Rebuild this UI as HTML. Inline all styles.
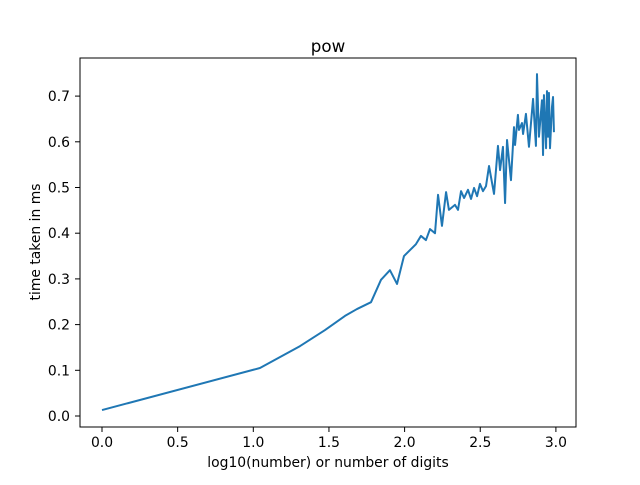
<!DOCTYPE html>
<html><head><meta charset="utf-8"><style>
body{margin:0;background:#fff;}
svg text{font-family:"DejaVu Sans","Liberation Sans",sans-serif;fill:#000;}
</style></head><body>
<svg id="chart" width="640" height="480" xmlns="http://www.w3.org/2000/svg">
<rect width="640" height="480" fill="#fff"/>
<text x="328" y="52" font-size="16.7" text-anchor="middle">pow</text>
<text x="328" y="467" font-size="13.9" text-anchor="middle">log10(number) or number of digits</text>
<text transform="translate(40,242) rotate(-90)" font-size="13.9" text-anchor="middle">time taken in ms</text>
<g id="ticks"></g>
<polyline id="line" fill="none" stroke="#1f77b4" stroke-width="2" stroke-linejoin="round"/>
<rect x="80" y="58" width="496" height="369" fill="none" stroke="#000" stroke-width="1"/>
</svg>
<script>
const xs=[0,1.044,1.309,1.474,1.606,1.685,1.778,1.844,1.903,1.950,1.996,2.075,2.108,2.141,2.168,2.201,2.221,2.247,2.274,2.293,2.333,2.353,2.373,2.393,2.419,2.439,2.459,2.479,2.498,2.518,2.538,2.558,2.591,2.617,2.631,2.650,2.664,2.677,2.690,2.703,2.723,2.730,2.749,2.756,2.776,2.783,2.802,2.822,2.849,2.868,2.875,2.888,2.908,2.915,2.921,2.935,2.941,2.948,2.954,2.961,2.974,2.981,2.987];
const ys=[0.013,0.105,0.153,0.188,0.219,0.234,0.249,0.298,0.319,0.289,0.350,0.376,0.394,0.385,0.409,0.400,0.484,0.416,0.490,0.451,0.462,0.451,0.492,0.477,0.495,0.475,0.499,0.481,0.508,0.492,0.503,0.547,0.486,0.591,0.538,0.589,0.466,0.604,0.560,0.516,0.632,0.593,0.659,0.626,0.641,0.617,0.661,0.589,0.694,0.591,0.748,0.611,0.691,0.571,0.702,0.586,0.711,0.611,0.707,0.586,0.676,0.698,0.621];
const xTicks=[0,0.5,1,1.5,2,2.5,3];
const yTicks=[0,0.1,0.2,0.3,0.4,0.5,0.6,0.7];
const X=v=>102+v*151.3, Y=v=>416-v*457;
const ns="http://www.w3.org/2000/svg";
document.getElementById('line').setAttribute('points',xs.map((x,i)=>X(x)+','+Y(ys[i])).join(' '));
const g=document.getElementById('ticks');
function mk(tag,attrs){const e=document.createElementNS(ns,tag);for(const k in attrs)e.setAttribute(k,attrs[k]);g.appendChild(e);return e;}
xTicks.forEach(t=>{
  const l=mk('line',{x1:X(t),x2:X(t),y1:427,y2:432,stroke:'#000','stroke-width':1});
  
  
  const s=mk('text',{x:X(t),y:447,'font-size':13.9,'text-anchor':'middle'});s.textContent=t.toFixed(1);
  
  
});
yTicks.forEach(t=>{
  const l=mk('line',{x1:75,x2:80,y1:Y(t),y2:Y(t),stroke:'#000','stroke-width':1});
  
  
  const s=mk('text',{x:70,y:Y(t)+5,'font-size':13.9,'text-anchor':'end'});s.textContent=t.toFixed(1);
  
  
});
</script>
</body></html>
